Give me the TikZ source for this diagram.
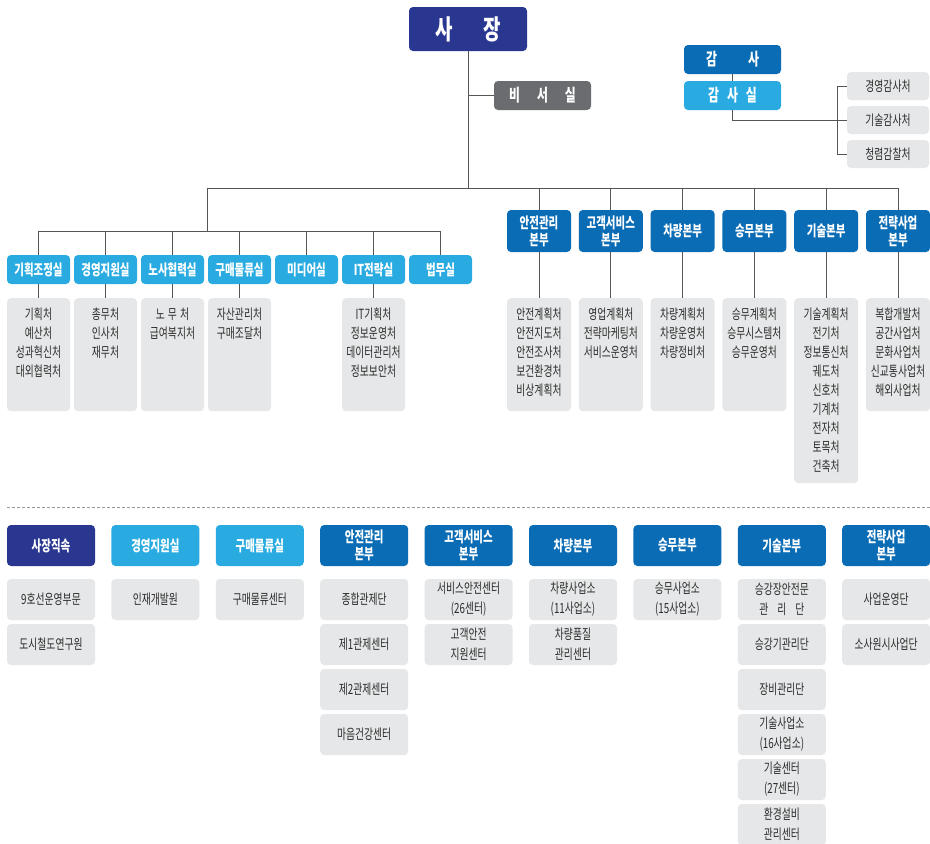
\documentclass[tikz,border=0pt]{standalone}
\usepackage{fontspec}
\setmainfont[FakeStretch=0.7]{Noto Sans CJK KR}
\usetikzlibrary{positioning}

\definecolor{navy}{RGB}{41,55,145}
\definecolor{midblue}{RGB}{10,108,181}
\definecolor{lightblue}{RGB}{41,171,226}
\definecolor{secgray}{RGB}{106,108,112}
\definecolor{boxgray}{RGB}{230,231,232}
\definecolor{linegray}{RGB}{85,85,85}
\definecolor{txtgray}{RGB}{45,45,45}

\tikzset{
  head/.style={rounded corners=4pt, text=white, align=center, inner sep=0pt,
    font=\bfseries\fontsize{15}{17}\selectfont},
  sub/.style={rounded corners=4pt, fill=boxgray, inner sep=0pt, align=center,
    text=txtgray, font=\fontsize{14}{20}\selectfont},
  subtext/.style={font=\fontsize{14}{19}\selectfont, text=txtgray, align=center,
    inner sep=0pt, anchor=north},
  link/.style={draw=linegray, line width=0.9pt},
}

\begin{document}
\begin{tikzpicture}[x=1pt, y=-1pt]
  \fill[white] (0,0) rectangle (930,844);
  \useasboundingbox (0,0) rectangle (930,844);

  % top
  \node[head, fill=navy, minimum width=118, minimum height=44,
    font=\bfseries\fontsize{27}{27}\selectfont] (ceo) at (468,29) {사\hspace{31pt}장};
  \node[head, fill=secgray, minimum width=97, minimum height=29,
    font=\bfseries\fontsize{17}{17}\selectfont] (sec) at (542.5,95.5) {비\hspace{17pt}서\hspace{17pt}실};
  \node[head, fill=midblue, minimum width=97, minimum height=29,
    font=\bfseries\fontsize{17}{17}\selectfont] (aud) at (732.5,59.5) {감\hspace{31pt}사};
  \node[head, fill=lightblue, minimum width=97, minimum height=29,
    font=\bfseries\fontsize{17}{17}\selectfont] (audo) at (732.5,95.5) {감\hspace{8pt}사\hspace{8pt}실};
  \foreach \t [count=\i] in {경영감사처,기술감사처,청렴감찰처}
    \node[sub, minimum width=82, minimum height=28] (a\i) at (888,52+34*\i) {\t};

  \coordinate (bus) at (468,188);
  \coordinate (lj) at (207,188);
  \coordinate (lb) at (207,231);

  \draw[link] (ceo) -- (bus);
  \draw[link] (ceo.south |- sec) -- (sec);
  \draw[link] (aud) -- (audo);
  \draw[link] (audo.south) |- (a2.west);
  \draw[link] (a1.west) -- ++(-9,0) |- (a3.west);

  % staff offices
  \foreach \t [count=\i] in {기획조정실,경영지원실,노사협력실,구매물류실,미디어실,IT전략실,법무실} {
    \node[head, fill=lightblue, minimum width=63, minimum height=29] (L\i) at ({-28.5+67*\i},269.5) {\t};
    \draw[link] (L\i.north) -- (L\i.north |- lb);
  }
  \draw[link] (lj) -- (lb);
  \draw[link] (L1.north |- lb) -- (L7.north |- lb);

  \foreach \i/\t in {1/{기획처\\예산처\\성과혁신처\\대외협력처}, 2/{총무처\\인사처\\재무처},
      3/{노\hspace{3pt}무\hspace{3pt}처\\급여복지처}, 4/{자산관리처\\구매조달처},
      6/{IT기획처\\정보운영처\\데이터관리처\\정보보안처}} {
    \node[sub, minimum width=63, minimum height=113, anchor=north] (Ls\i) at ({-28.5+67*\i},298) {};
    \node[subtext] (Lt\i) at ([yshift=-10pt]Ls\i.north) {\t};
    \draw[link] (L\i) -- (Ls\i);
  }

  % headquarters
  \foreach \t [count=\i] in {{안전관리\\본부},{고객서비스\\본부},차량본부,승무본부,기술본부,{전략사업\\본부}} {
    \node[head, fill=midblue, minimum width=64, minimum height=42] (R\i) at ({539+71.8*(\i-1)},231) {\t};
    \draw[link] (R\i.north) -- (R\i.north |- bus);
  }
  \draw[link] (lj) -- (R6.north |- bus);

  \foreach \i/\h/\t in {1/113/{안전계획처\\안전지도처\\안전조사처\\보건환경처\\비상계획처},
      2/113/{영업계획처\\전략마케팅처\\서비스운영처},
      3/113/{차량계획처\\차량운영처\\차량정비처},
      4/113/{승무계획처\\승무시스템처\\승무운영처},
      5/185/{기술계획처\\전기처\\정보통신처\\궤도처\\신호처\\기계처\\전자처\\토목처\\건축처},
      6/113/{복합개발처\\공간사업처\\문화사업처\\신교통사업처\\해외사업처}} {
    \node[sub, minimum width=64, minimum height=\h, anchor=north] (Rs\i) at ({539+71.8*(\i-1)},298) {};
    \node[subtext] (Rt\i) at ([yshift=-10pt]Rs\i.north) {\t};
    \draw[link] (R\i) -- (Rs\i);
  }

  \draw[linegray!60, line width=0.8pt, dash pattern=on 3pt off 2pt] (7,507) -- (930,507);

  % affiliated organisations
  \foreach \c/\col/\t in {1/navy/사장직속, 2/lightblue/경영지원실, 3/lightblue/구매물류실,
      4/midblue/{안전관리\\본부}, 5/midblue/{고객서비스\\본부}, 6/midblue/차량본부,
      7/midblue/승무본부, 8/midblue/기술본부, 9/midblue/{전략사업\\본부}}
    \node[head, fill=\col, minimum width=88, minimum height=41] (B\c) at ({51+104.4*(\c-1)},545.5) {\t};

  \foreach \c/\list in {1/{9호선운영부문,도시철도연구원}, 2/{인재개발원}, 3/{구매물류센터},
      4/{종합관제단,제1관제센터,제2관제센터,마음건강센터},
      5/{{서비스안전센터\\(26센터)},{고객안전\\지원센터}},
      6/{{차량사업소\\(11사업소)},{차량품질\\관리센터}},
      7/{{승무사업소\\(15사업소)}},
      8/{{승강장안전문\\관\hspace{9pt}리\hspace{9pt}단},승강기관리단,장비관리단,{기술사업소\\(16사업소)},{기술센터\\(27센터)},{환경설비\\관리센터}},
      9/{사업운영단,소사원시사업단}}
    \foreach \t [count=\k] in \list
      \node[sub, minimum width=88, minimum height=41] (B\c-\k) at ({51+104.4*(\c-1)},{599.5+45*(\k-1)}) {\t};
\end{tikzpicture}
\end{document}
